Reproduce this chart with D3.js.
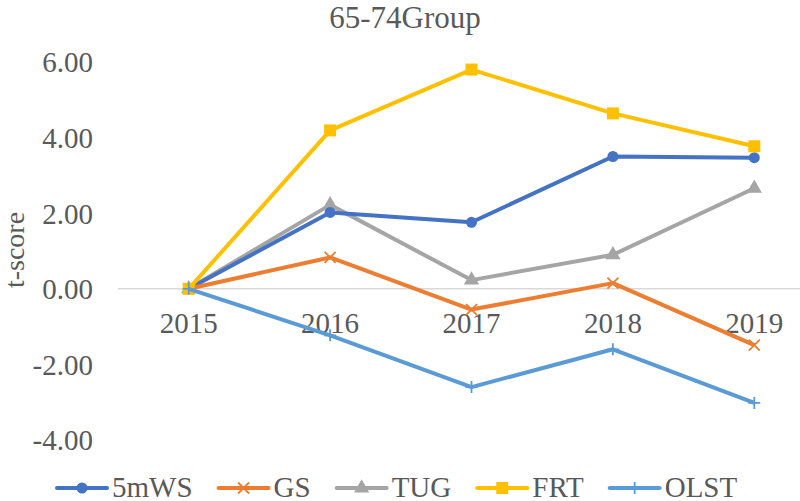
<!DOCTYPE html>
<html>
<head>
<meta charset="utf-8">
<script src="https://cdn.jsdelivr.net/npm/d3@7"></script>
<style>
  body { margin: 0; background: #fff; }
  svg text { font-family: "Liberation Serif", "DejaVu Serif", serif; fill: #595959; }
</style>
</head>
<body>
<div id="chart"></div>
<script>
// data
const years = ["2015", "2016", "2017", "2018", "2019"];
const yTicks = [-4, -2, 0, 2, 4, 6];
const ws5 = [0, 2.02, 1.76, 3.50, 3.47];
const gs = [0, 0.83, -0.55, 0.15, -1.49];
const tug = [0, 2.22, 0.23, 0.90, 2.66];
const frt = [0, 4.19, 5.80, 4.64, 3.77];
const olst = [0, -1.23, -2.60, -1.60, -3.02];

const seriesNames = ["5mWS", "GS", "TUG", "FRT", "OLST"];
const seriesValues = [ws5, gs, tug, frt, olst];
const colors = ["#4472C4", "#ED7D31", "#A5A5A5", "#FFC000", "#5B9BD5"];
const shapes = ["circle", "x", "triangle", "square", "plus"];

//setup
const width = 800, height = 501;
const serif = "'Liberation Serif', 'DejaVu Serif', serif";
const svg = d3.select("#chart").append("svg")
    .attr("width", width)
    .attr("height", height);

const x = d3.scaleBand().domain(years).range([118, 825]);
const y = d3.scaleLinear().domain([-4, 6]).range([440, 62]);
const fmt = d => d3.format(".2f")(d).replace("\u2212", "-");

// title
svg.append("text")
    .attr("x", 405).attr("y", 28)
    .attr("text-anchor", "middle")
    .style("font-family", serif)
    .style("font-size", "31px")
    .text("65-74Group");

// y axis title
svg.append("text")
    .attr("transform", "translate(24,250) rotate(-90)")
    .attr("text-anchor", "middle")
    .style("font-family", serif)
    .style("font-size", "28px")
    .text("t-score");

// zero line
svg.append("line")
    .attr("x1", 118).attr("x2", 825)
    .attr("y1", y(0)).attr("y2", y(0))
    .attr("stroke", "#d9d9d9").attr("stroke-width", 1.5);

// y axis labels
const yAxis = d3.axisLeft(y).tickValues(yTicks).tickFormat(fmt).tickSize(0).tickPadding(0);
const ga = svg.append("g").attr("transform", "translate(93,0)").call(yAxis);
ga.attr("font-family", null).attr("font-size", null);
ga.select(".domain").remove();
ga.selectAll("text").style("font-family", serif).style("font-size", "29px").attr("fill", null).attr("dy", "0.34em");

// x axis labels
const xAxis = d3.axisBottom(x).tickSize(0).tickPadding(0);
const gx = svg.append("g").attr("transform", "translate(0,312)").call(xAxis);
gx.attr("font-family", null).attr("font-size", null);
gx.select(".domain").remove();
gx.selectAll("text").style("font-family", serif).style("font-size", "29px").attr("fill", null).attr("dy", "0.72em");

function cx(i) { return x(years[i]) + x.bandwidth() / 2; }

function marker(g, shape, color, px, py) {
  if (shape === "circle") {
    g.append("circle").attr("cx", px).attr("cy", py).attr("r", 5.5).attr("fill", color);
  } else if (shape === "square") {
    g.append("rect").attr("x", px - 6).attr("y", py - 6).attr("width", 12).attr("height", 12).attr("fill", color);
  } else if (shape === "triangle") {
    g.append("path").attr("d", d3.symbol().type(d3.symbolTriangle).size(100)()).attr("transform", "translate(" + px + "," + py + ")").attr("fill", color);
  } else if (shape === "x") {
    g.append("path").attr("d", "M-5.5,-5.5L5.5,5.5M-5.5,5.5L5.5,-5.5").attr("transform", "translate(" + px + "," + py + ")").attr("stroke", color).attr("stroke-width", 1.8).attr("fill", "none");
  } else if (shape === "plus") {
    g.append("path").attr("d", "M-6,0L6,0M0,-6L0,6").attr("transform", "translate(" + px + "," + py + ")").attr("stroke", color).attr("stroke-width", 1.8).attr("fill", "none");
  }
}

const line = d3.line().x((d, i) => cx(i)).y(d => y(d));

// draw order: OLST on top
const order = [2, 0, 1, 3, 4];
order.forEach(k => {
  const g = svg.append("g");
  g.append("path")
      .datum(seriesValues[k])
      .attr("d", line)
      .attr("fill", "none")
      .attr("stroke", colors[k])
      .attr("stroke-width", 4)
      .attr("stroke-linejoin", "round");
  seriesValues[k].forEach((v, i) => marker(g, shapes[k], colors[k], cx(i), y(v)));
});

// legend
const lg = svg.append("g");
let lx = 57;
const ly = 488;
seriesNames.forEach((name, k) => {
  lg.append("line")
      .attr("x1", lx).attr("x2", lx + 50)
      .attr("y1", ly).attr("y2", ly)
      .attr("stroke", colors[k]).attr("stroke-width", 4).attr("stroke-linecap", "round");
  marker(lg, shapes[k], colors[k], lx + 25, ly);
  const t = lg.append("text")
      .attr("x", lx + 55).attr("y", ly + 9)
      .style("font-family", serif)
      .style("font-size", "29px")
      .text(name);
  lx += 55 + t.node().getComputedTextLength() + 26;
});
</script>
</body>
</html>
